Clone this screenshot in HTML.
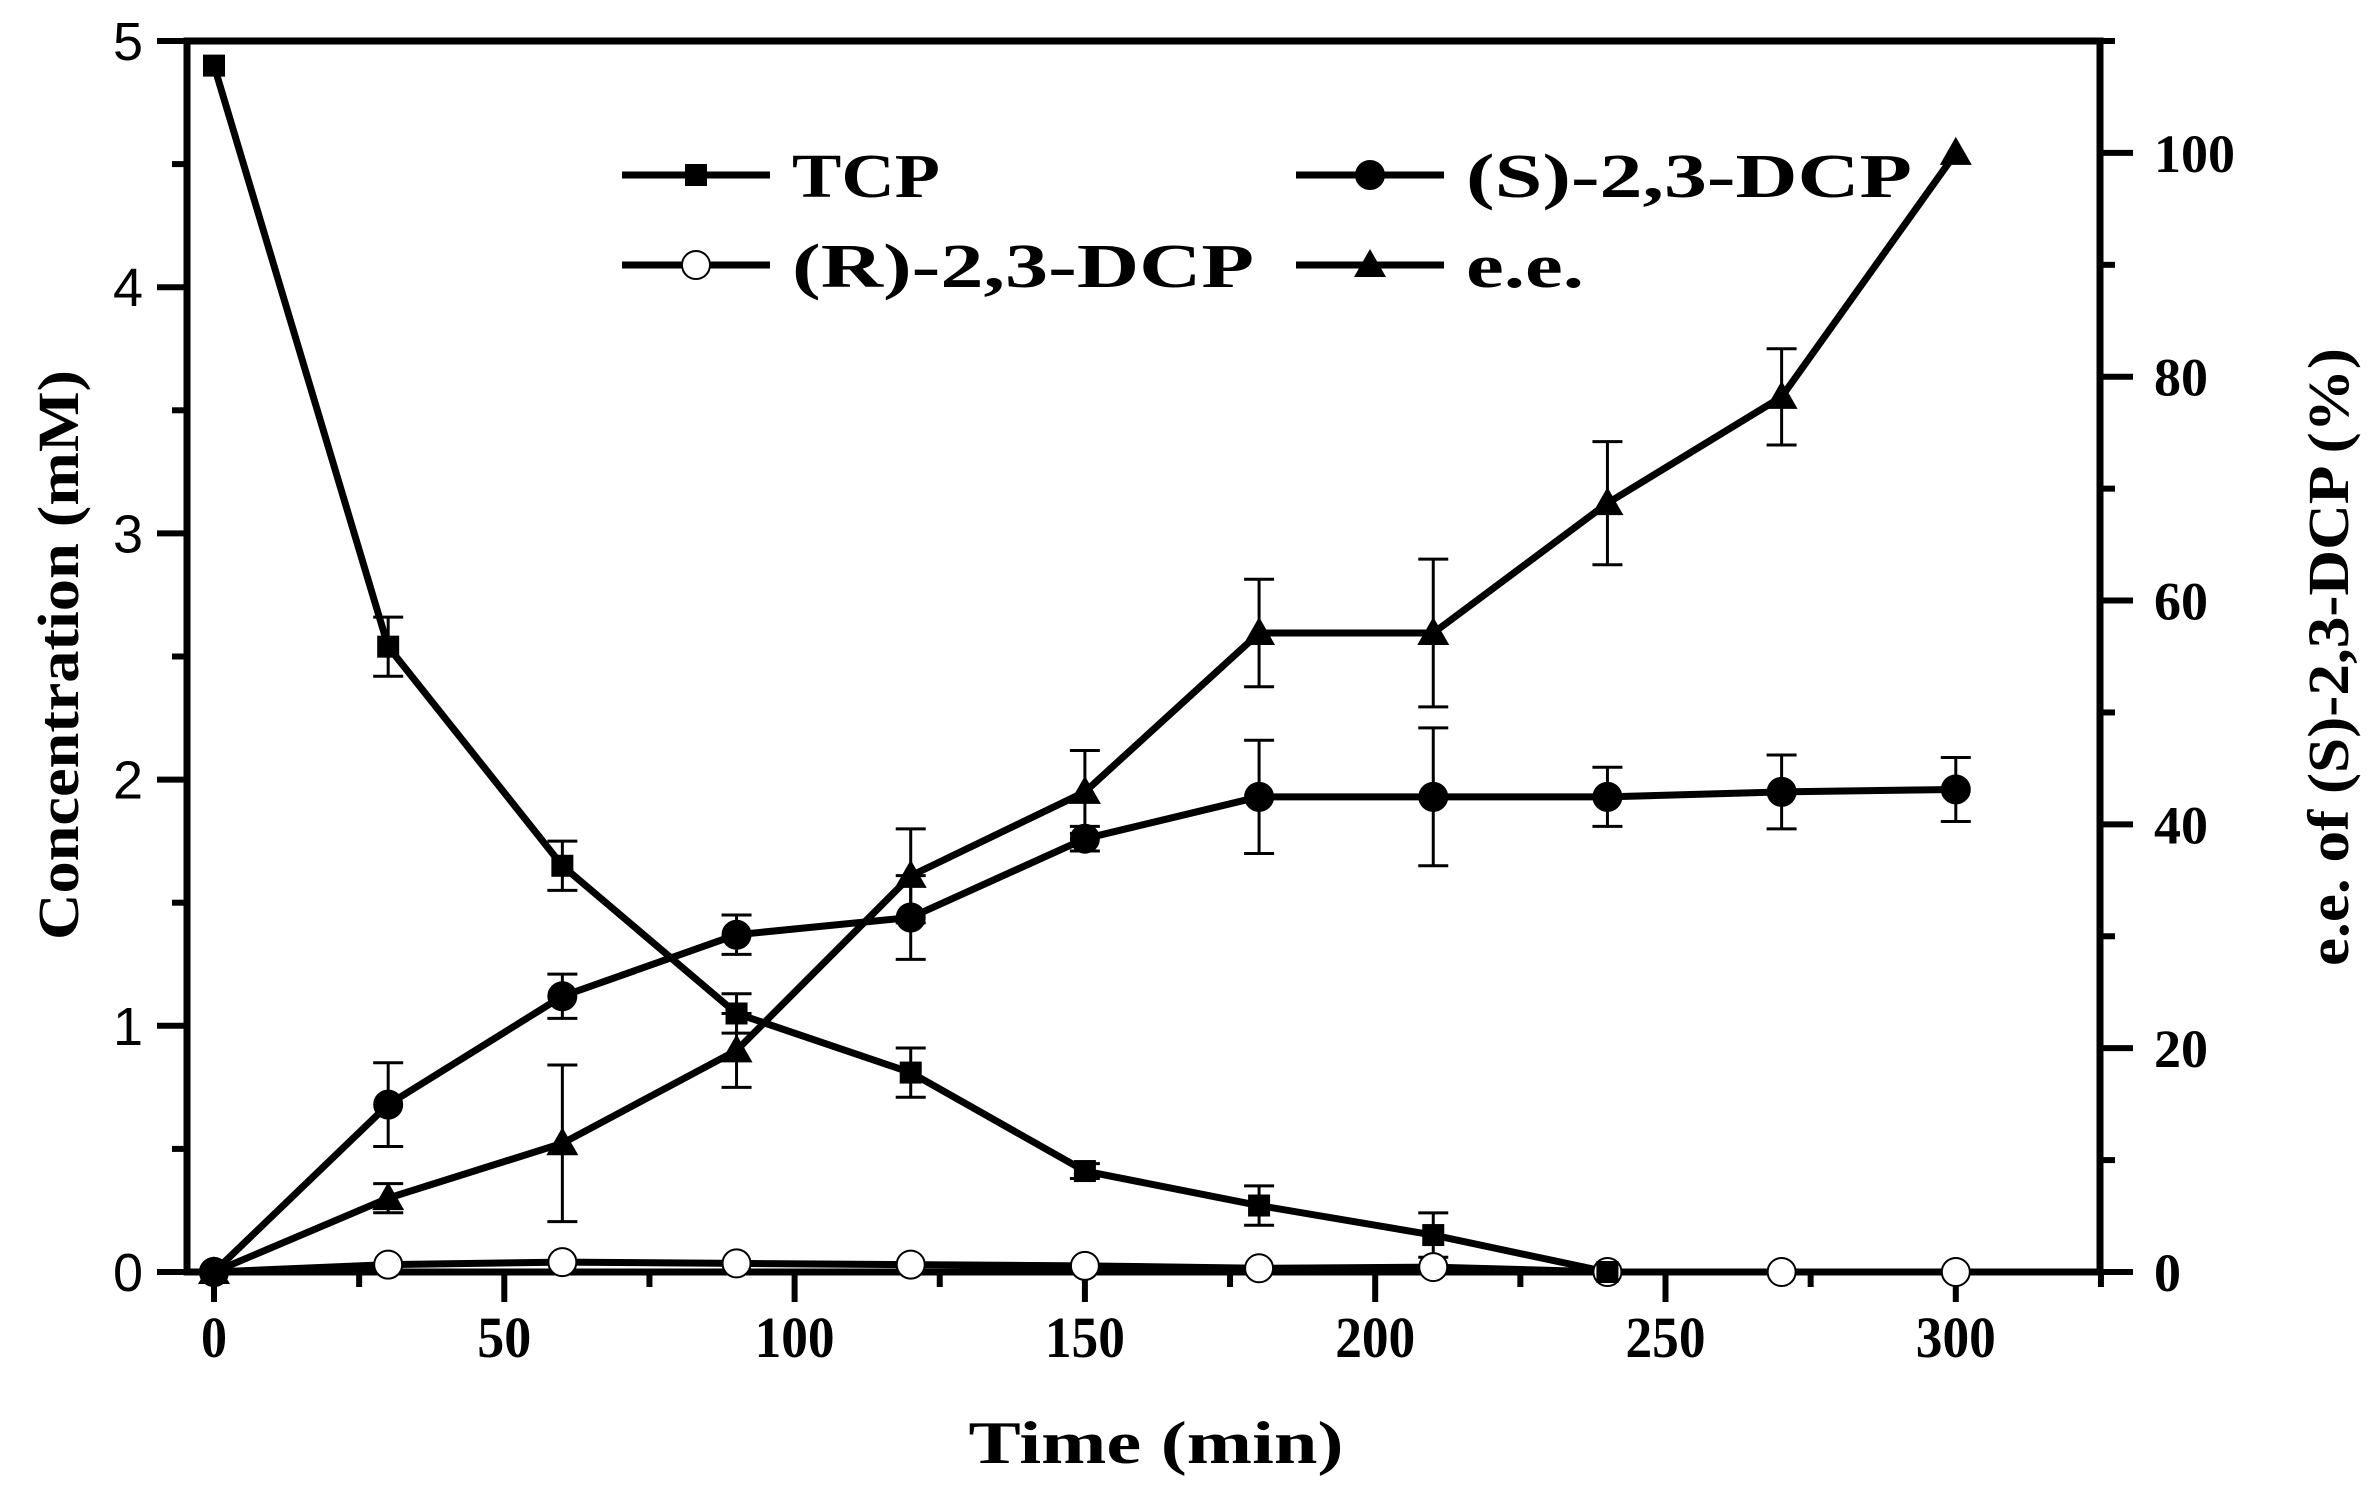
<!DOCTYPE html>
<html><head><meta charset="utf-8"><style>
html,body{margin:0;padding:0;background:#fff;}
svg{display:block}
.sf{font-family:"Liberation Serif","Times New Roman",serif;font-weight:bold}
.ss{font-family:"Liberation Sans",Arial,sans-serif}
</style></head><body>
<svg id="s" width="2374" height="1495" xmlns="http://www.w3.org/2000/svg"></svg>
<script>
var X0=214,XS=5.806,Y0=1272,YS=246.2;
function px(t){return X0+t*XS;}
function py(c){return Y0-c*YS;}
function pe(e){return Y0-e*YS*5/110;}
var o='';
o+='<rect x="187" y="41" width="1913" height="1231" fill="none" stroke="#000" stroke-width="7"/>';
for(var i=0;i<=10;i++){var y=Y0-i*YS/2;var l=(i%2==0)?30:15;o+='<line x1="187" y1="'+y+'" x2="'+(187-l)+'" y2="'+y+'" stroke="#000" stroke-width="6"/>';
 if(i%2==0)o+='<text class="ss" x="128" y="'+(y+19)+'" font-size="54" text-anchor="middle">'+(i/2)+'</text>';}
for(var t=0;t<=325;t+=25){var x=px(t);var l=(t%50==0)?30:15;o+='<line x1="'+x+'" y1="1272" x2="'+x+'" y2="'+(1272+l)+'" stroke="#000" stroke-width="6"/>';
 if(t%50==0){var w=(t==0)?26:(t<100?54:80);o+='<text class="sf" x="'+(x-w/2)+'" y="1357" font-size="58" textLength="'+w+'" lengthAdjust="spacingAndGlyphs">'+t+'</text>';}}
for(var e=0;e<=110;e+=10){var y=pe(e);var l=(e%20==0)?33:15;o+='<line x1="2100" y1="'+y+'" x2="'+(2100+l)+'" y2="'+y+'" stroke="#000" stroke-width="6"/>';
 if(e%20==0)o+='<text class="sf" x="2154" y="'+(y+19)+'" font-size="54">'+e+'</text>';}
o+='<text class="sf" x="1156" y="1463" font-size="60" text-anchor="middle" textLength="375" lengthAdjust="spacingAndGlyphs">Time (min)</text>';
o+='<text class="sf" transform="translate(78,655) rotate(-90)" font-size="58" text-anchor="middle" textLength="570" lengthAdjust="spacingAndGlyphs">Concentration (mM)</text>';
o+='<text class="sf" transform="translate(2348,657) rotate(-90)" font-size="58" text-anchor="middle" textLength="618" lengthAdjust="spacingAndGlyphs">e.e. of (S)-2,3-DCP (%)</text>';
var T=[0,30,60,90,120,150,180,210,240,270,300];
var tcp=[4.9,2.54,1.65,1.05,0.81,0.41,0.27,0.15,0,0,0];
var tcpE=[0,0.12,0.1,0.08,0.1,0.03,0.08,0.09,0,0,0];
var sd=[0,0.68,1.12,1.37,1.44,1.76,1.93,1.93,1.93,1.95,1.96];
var sdE=[0,0.17,0.09,0.08,0.17,0.05,0.23,0.28,0.12,0.15,0.13];
var rd=[0,0.03,0.04,0.035,0.03,0.025,0.015,0.02,0,0,0];
var ee=[0,6.6,11.5,19.8,35.4,42.9,57.1,57.1,68.7,78.2,100];
var eeE=[0,1.3,7,3.3,4.2,3.7,4.8,6.6,5.5,4.3,0];
function err(x,yc,d,f){if(d<=0)return '';var a=f(yc+d),b=f(yc-d);return '<line x1="'+x+'" y1="'+a+'" x2="'+x+'" y2="'+b+'" stroke="#000" stroke-width="3"/><line x1="'+(x-15)+'" y1="'+a+'" x2="'+(x+15)+'" y2="'+a+'" stroke="#000" stroke-width="3"/><line x1="'+(x-15)+'" y1="'+b+'" x2="'+(x+15)+'" y2="'+b+'" stroke="#000" stroke-width="3"/>';}
function line(v,f){var p=[];for(var i=0;i<T.length;i++)p.push(px(T[i])+','+f(v[i]));return '<polyline points="'+p.join(' ')+'" fill="none" stroke="#000" stroke-width="7" stroke-linejoin="round"/>';}
function sq(x,y){return '<rect x="'+(x-11)+'" y="'+(y-11)+'" width="22" height="22" fill="#000"/>';}
function ci(x,y,f){return '<circle cx="'+x+'" cy="'+y+'" r="14" fill="'+(f?'#000':'#fff')+'" stroke="#000" stroke-width="2"/>';}
function tr(x,y){return '<polygon points="'+x+','+(y-16)+' '+(x-16)+','+(y+12)+' '+(x+16)+','+(y+12)+'" fill="#000"/>';}
for(var i=0;i<T.length;i++){o+=err(px(T[i]),tcp[i],tcpE[i],py);o+=err(px(T[i]),sd[i],sdE[i],py);o+=err(px(T[i]),ee[i],eeE[i],pe);}
o+=line(rd,py);o+=line(tcp,py);o+=line(sd,py);o+=line(ee,pe);
for(var i=0;i<T.length;i++){var x=px(T[i]);o+=ci(x,py(rd[i]),false);if(i<9)o+=sq(x,py(tcp[i]));o+=ci(x,py(sd[i]),true);o+=tr(x,pe(ee[i]));}
function leg(x1,y,m,txt,w){var s='<line x1="'+x1+'" y1="'+y+'" x2="'+(x1+148)+'" y2="'+y+'" stroke="#000" stroke-width="7"/>';
 var mx=x1+74;s+=(m=='s'?sq(mx,y):m=='c'?ci(mx,y,true):m=='o'?ci(mx,y,false):tr(mx,y));
 s+='<text class="sf" x="'+(x1+170)+'" y="'+(y+22)+'" font-size="62" textLength="'+w+'" lengthAdjust="spacingAndGlyphs">'+txt+'</text>';return s;}
o+=leg(622,175,'s','TCP',148);
o+=leg(1296,175,'c','(S)-2,3-DCP',446);
o+=leg(622,265,'o','(R)-2,3-DCP',462);
o+=leg(1296,265,'t','e.e.',118);
document.getElementById('s').innerHTML=o;
</script>
</body></html>
